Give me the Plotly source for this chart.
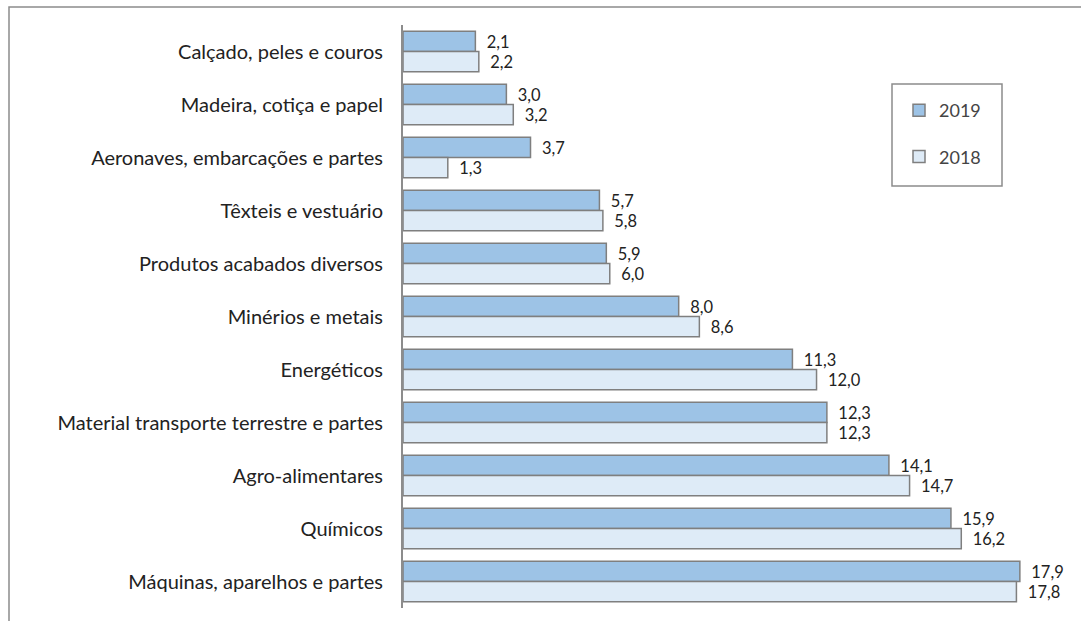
import plotly.graph_objects as go

categories = [
    "Calçado, peles e couros",
    "Madeira, cotiça e papel",
    "Aeronaves, embarcações e partes",
    "Têxteis e vestuário",
    "Produtos acabados diversos",
    "Minérios e metais",
    "Energéticos",
    "Material transporte terrestre e partes",
    "Agro-alimentares",
    "Químicos",
    "Máquinas, aparelhos e partes",
]
values_2019 = [2.1, 3.0, 3.7, 5.7, 5.9, 8.0, 11.3, 12.3, 14.1, 15.9, 17.9]
values_2018 = [2.2, 3.2, 1.3, 5.8, 6.0, 8.6, 12.0, 12.3, 14.7, 16.2, 17.8]
series_names = ["2019", "2018"]

def fmt(v):
    return "\u00a0\u00a0" + f"{v:.1f}".replace(".", ",")

FONT = "Lato, Open Sans, sans-serif"
W, H = 1081, 621
ml, mr, mt, mb = 403, 6, 25, 13

fig = go.Figure()
for name, vals, color in [(series_names[0], values_2019, "#9DC3E6"),
                          (series_names[1], values_2018, "#DEEBF7")]:
    fig.add_trace(go.Bar(
        y=categories, x=vals, orientation="h", name=name,
        legendgroup=name,
        marker=dict(color=color, line=dict(color="#7F7F7F", width=1.5)),
        text=[fmt(v) for v in vals], textposition="outside",
        textfont=dict(family=FONT, size=18, color="#222222"),
        cliponaxis=False,
    ))

pw = W - ml - mr
ph = H - mt - mb

def px_x(x):
    return (x - ml) / pw

def px_y(y):
    return 1 - (y - mt) / ph

# outer chart border
fig.add_shape(type="rect", xref="paper", yref="paper",
              x0=px_x(9), x1=px_x(1100), y0=px_y(640), y1=px_y(7),
              line=dict(color="#8C8C8C", width=1.5), fillcolor="rgba(0,0,0,0)", layer="below")
# legend box
fig.add_shape(type="rect", xref="paper", yref="paper",
              x0=px_x(892), x1=px_x(1002), y0=px_y(186), y1=px_y(84),
              line=dict(color="#8C8C8C", width=1.5), fillcolor="white", layer="below")

fig.update_layout(
    width=W, height=H,
    margin=dict(l=ml, r=mr, t=mt, b=mb, autoexpand=False),
    paper_bgcolor="white", plot_bgcolor="rgba(0,0,0,0)",
    barmode="group", bargap=0.24, bargroupgap=0,
    font=dict(family=FONT, size=20, color="#222222"),
    xaxis=dict(range=[0, 19.5], visible=False, showgrid=False, zeroline=False),
    yaxis=dict(autorange="reversed", showline=True, linecolor="#8C8C8C", linewidth=2,
               ticks="", showgrid=False, ticklabelstandoff=14,
               tickfont=dict(family=FONT, size=20, color="#222222")),
    legend=dict(x=px_x(899), y=px_y(92), xanchor="left", yanchor="top",
                borderwidth=0, bgcolor="rgba(0,0,0,0)",
                font=dict(family=FONT, size=18, color="#444444"),
                tracegroupgap=20, traceorder="grouped",
                itemwidth=30),
    showlegend=True,
)

fig.write_html("out.html", config={"displayModeBar": False},
               post_script="document.body.style.margin='0';")
